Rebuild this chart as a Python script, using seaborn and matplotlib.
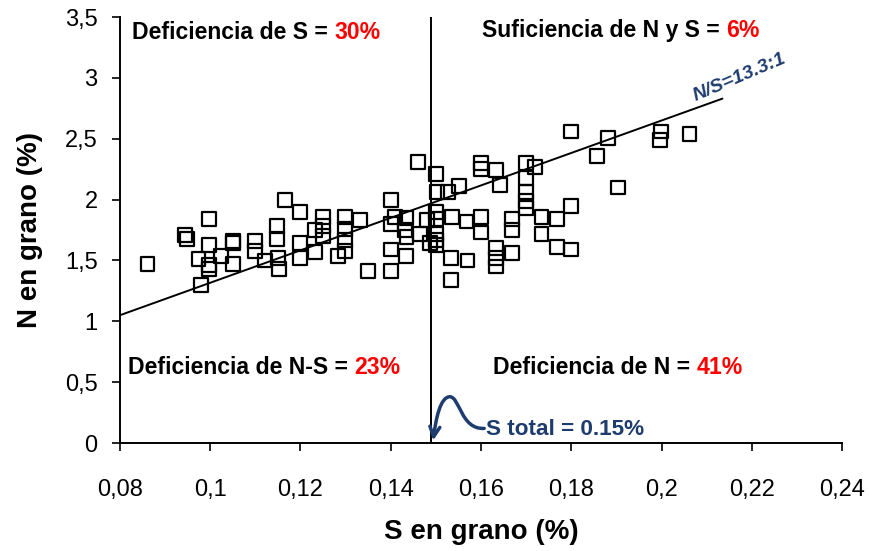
import numpy as np
import pandas as pd
import seaborn as sns
import matplotlib.pyplot as plt
from matplotlib.path import Path
from matplotlib.patches import FancyArrowPatch
from matplotlib.ticker import FuncFormatter

# S and N in grain (%)
s_grano = [0.0861, 0.0944, 0.0948, 0.0998, 0.0998, 0.0974, 0.0998, 0.0998, 0.0979, 0.1023,
           0.105, 0.105, 0.105, 0.110, 0.110, 0.1121, 0.1166, 0.1199, 0.1149, 0.1149,
           0.115, 0.1152, 0.1199, 0.1199, 0.1232, 0.1249, 0.1249, 0.1249, 0.1232, 0.1299,
           0.1299, 0.1299, 0.1299, 0.1284, 0.1332, 0.135, 0.140, 0.140, 0.140, 0.140,
           0.141, 0.146, 0.150, 0.1502, 0.1527, 0.1552, 0.1435, 0.1432, 0.1435, 0.1465,
           0.148, 0.150, 0.150, 0.150, 0.150, 0.150, 0.1487, 0.1535, 0.1568, 0.160,
           0.160, 0.1434, 0.1533, 0.157, 0.1533, 0.160, 0.160, 0.1633, 0.1643, 0.170,
           0.172, 0.170, 0.170, 0.170, 0.170, 0.1668, 0.1668, 0.1734, 0.1768, 0.180,
           0.1734, 0.1768, 0.180, 0.1633, 0.1633, 0.1633, 0.1668, 0.180, 0.1858, 0.1882,
           0.1903, 0.1999, 0.1997, 0.2062]
n_grano = [1.47, 1.71, 1.68, 1.84, 1.63, 1.51, 1.46, 1.43, 1.30, 1.54,
           1.66, 1.64, 1.47, 1.66, 1.58, 1.50, 2.00, 1.90, 1.78, 1.68,
           1.52, 1.43, 1.64, 1.52, 1.75, 1.86, 1.78, 1.70, 1.57, 1.86,
           1.76, 1.67, 1.58, 1.54, 1.83, 1.41, 1.41, 2.00, 1.80, 1.59,
           1.86, 2.31, 2.21, 2.06, 2.06, 2.11, 1.85, 1.75, 1.69, 1.72,
           1.83, 1.90, 1.84, 1.72, 1.67, 1.63, 1.64, 1.86, 1.82, 1.86,
           1.73, 1.54, 1.52, 1.50, 1.34, 2.30, 2.25, 2.24, 2.12, 2.30,
           2.27, 2.18, 2.06, 1.99, 1.93, 1.84, 1.75, 1.86, 1.84, 1.95,
           1.72, 1.61, 1.59, 1.60, 1.52, 1.45, 1.56, 2.56, 2.36, 2.51,
           2.10, 2.56, 2.49, 2.54]

# trend line N/S = 13.3:1
fit_s = [0.08, 0.2135]
fit_n = [1.05, 2.83]

s_umbral = 0.149  # S total threshold

navy = "#1f3c6e"

df = pd.DataFrame({"S": s_grano, "N": n_grano})

sns.set_style("ticks")
plt.rcParams["font.family"] = ["Liberation Sans", "DejaVu Sans"]
plt.rcParams.update({"text.color": "black", "axes.labelcolor": "black",
                     "xtick.color": "black", "ytick.color": "black",
                     "axes.edgecolor": "black"})

fig, ax = plt.subplots(figsize=(8.69, 5.51), dpi=100)
fig.subplots_adjust(left=0.138, right=0.969, bottom=0.196, top=0.969)

sns.scatterplot(data=df, x="S", y="N", marker="s", s=100, facecolor="none",
                edgecolor="black", linewidth=1.6, ax=ax, zorder=3)
ax.plot(fit_s, fit_n, color="black", lw=1.4)
ax.axvline(s_umbral, color="black", lw=1.4)

ax.set_xlim(0.08, 0.24)
ax.set_ylim(0, 3.5)
ax.set_xticks(np.arange(0.08, 0.2401, 0.02))
ax.set_yticks(np.arange(0, 3.51, 0.5))
fmt = FuncFormatter(lambda v, p: f"{v:g}".replace(".", ","))
ax.xaxis.set_major_formatter(fmt)
ax.yaxis.set_major_formatter(fmt)
ax.tick_params(labelsize=17, length=6, width=1.2, pad=10)
ax.tick_params(axis="x", pad=20)
sns.despine(ax=ax)
for sp in ["left", "bottom"]:
    ax.spines[sp].set_linewidth(1.4)

ax.set_xlabel("S en grano (%)", fontsize=20, fontweight="bold", labelpad=13)
ax.set_ylabel("N en grano (%)", fontsize=20, fontweight="bold", labelpad=16)

# quadrant labels
labels = [(0.0827, 3.37, "Deficiencia de S = ", "30%"),
          (0.1602, 3.39, "Suficiencia de N y S = ", "6%"),
          (0.0818, 0.62, "Deficiencia de N-S = ", "23%"),
          (0.1627, 0.62, "Deficiencia de N = ", "41%")]
for x, y, txt, pct in labels:
    t = ax.text(x, y, txt, fontsize=16.6, fontweight="bold", va="center", ha="left")
    ax.annotate(pct, xy=(1, 0.5), xycoords=t, va="center", ha="left",
                fontsize=16.6, fontweight="bold", color="red")

ax.text(0.2172, 3.0, "N/S=13.3:1", fontsize=14, fontweight="bold", style="italic",
        color=navy, rotation=23, ha="center", va="center")
ax.text(0.1611, 0.11, "S total = 0.15%", fontsize=16.2, fontweight="bold",
        color=navy, ha="left", va="center")

verts = [(0.1607, 0.12), (0.1555, 0.11), (0.1553, 0.38), (0.1531, 0.38),
         (0.1510, 0.38), (0.1500, 0.20), (0.1494, 0.02)]
codes = [Path.MOVETO, Path.CURVE4, Path.CURVE4, Path.CURVE4,
         Path.CURVE4, Path.CURVE4, Path.CURVE4]
arrow = FancyArrowPatch(path=Path(verts, codes), arrowstyle="->", mutation_scale=18,
                        lw=2.5, color=navy, zorder=4)
ax.add_patch(arrow)

fig.savefig("out.png", dpi=100)
